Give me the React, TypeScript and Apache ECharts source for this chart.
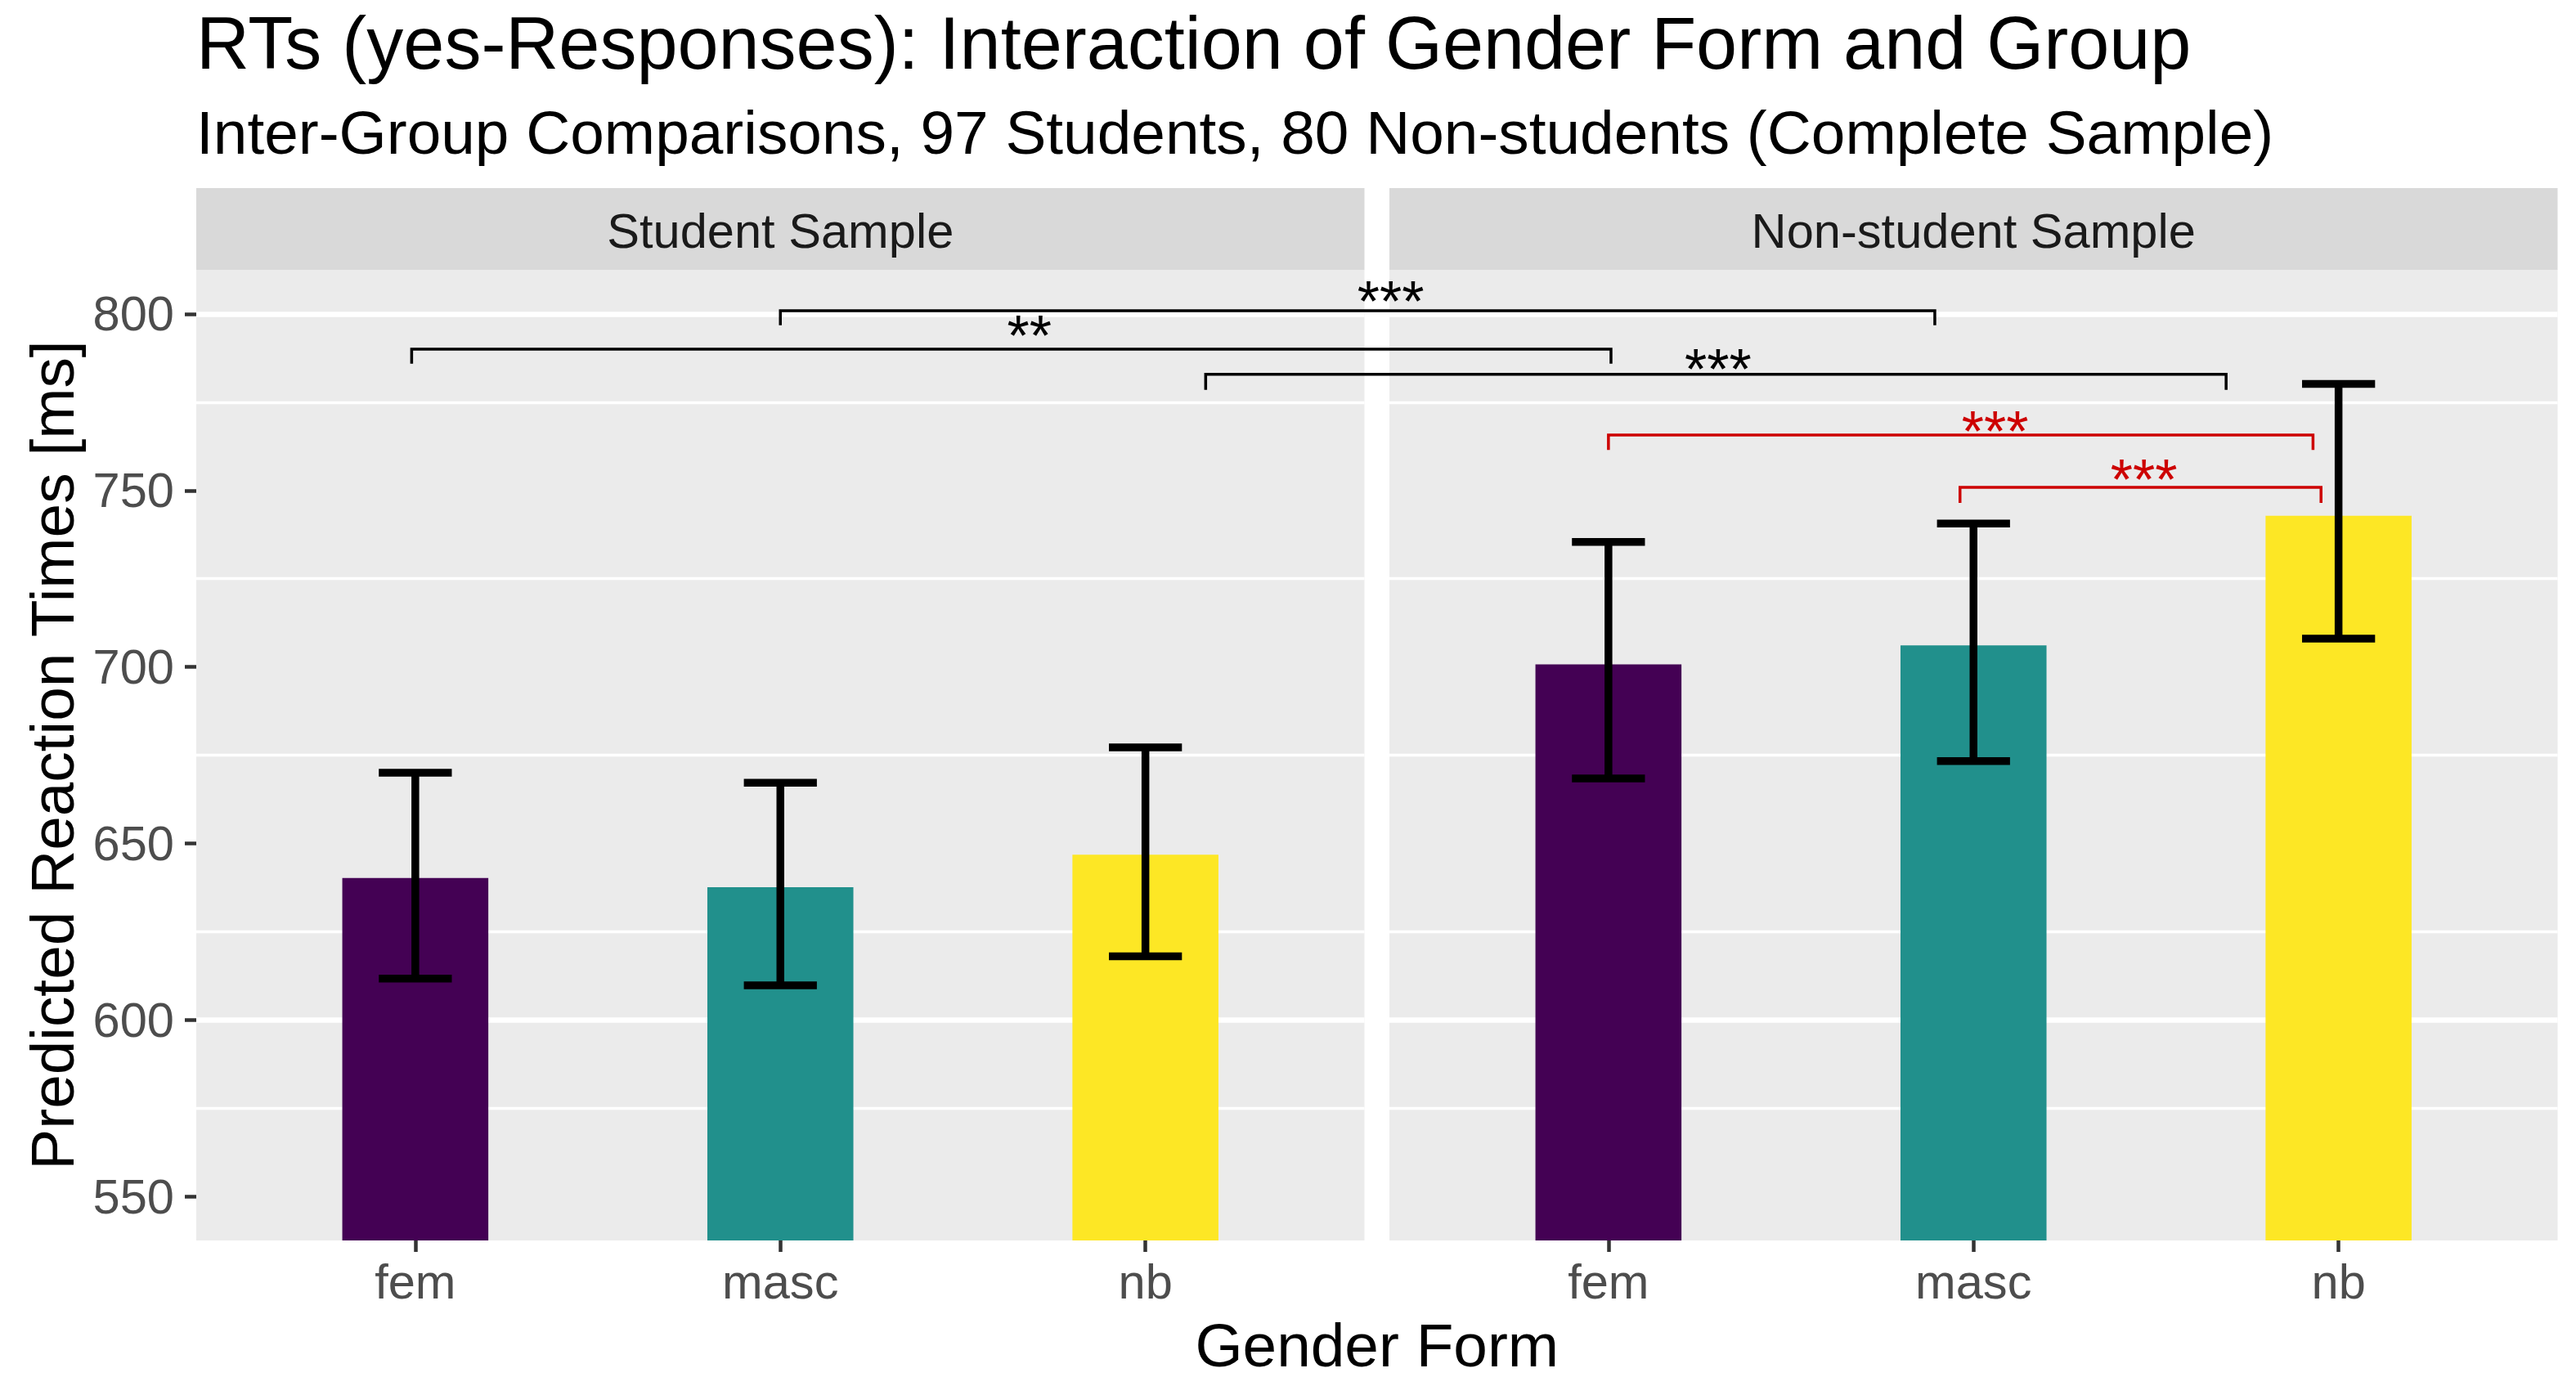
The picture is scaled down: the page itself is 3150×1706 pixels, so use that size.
import React, { useEffect, useRef } from 'react';
import * as echarts from 'echarts';

// ---------- data ----------
const categories = ['fem', 'masc', 'nb'];
const panelLabels = ['Student Sample', 'Non-student Sample'];
const studentMeans = [640.2, 637.6, 646.8];
const studentLower = [611.7, 609.8, 618.0];
const studentUpper = [670.0, 667.2, 677.2];
const nonStudentMeans = [700.7, 706.1, 742.8];
const nonStudentLower = [668.4, 673.3, 708.0];
const nonStudentUpper = [735.4, 740.6, 780.2];
const barColors = ['#440154', '#21908C', '#FDE725'];
const yTickValues = [550, 600, 650, 700, 750, 800];

// significance brackets: [panel, position in category units]
const bracketStart = [[0, 1.0], [0, -0.01], [0, 2.165], [1, 0.0], [1, 0.963]];
const bracketEnd = [[1, 0.894], [1, 0.007], [1, 1.692], [1, 1.93], [1, 1.952]];
const bracketY = [800.9, 790.0, 782.9, 765.7, 750.9];
const bracketTipY = [796.8, 785.9, 778.5, 761.5, 746.5];
const bracketLabels = ['***', '**', '***', '***', '***'];
const bracketLabelPos = [[0, 2.672], [0, 1.682], [1, 0.3], [1, 1.059], [1, 1.467]];
const bracketLabelY = [805.3, 795.6, 786.1, 768.5, 754.8];
const bracketColors = ['#000000', '#000000', '#000000', '#CD0000', '#CD0000'];

const titleText = 'RTs (yes-Responses): Interaction of Gender Form and Group';
const subtitleText = 'Inter-Group Comparisons, 97 Students, 80 Non-students (Complete Sample)';
const xTitle = 'Gender Form';
const yTitle = 'Predicted Reaction Times [ms]';

// ---------- layout / style ----------
const W = 3150;
const H = 1706;
const FONT = '"Liberation Sans", Arial, Helvetica, sans-serif';
const PANEL_LEFT = [240, 1699];
const PANEL_WIDTH = 1428.5;
const PANEL_TOP = 330;
const PANEL_HEIGHT = 1187;
const STRIP_HEIGHT = 100;
const X_MIN = -0.6;
const X_MAX = 2.6;
const Y_MIN = 537.5;
const Y_MAX = 812.5;
const UNIT = PANEL_WIDTH / (X_MAX - X_MIN);
const PANEL_OFFSET = [0, (PANEL_LEFT[1] - PANEL_LEFT[0]) / UNIT];
const OVERLAY_WIDTH = PANEL_LEFT[1] + PANEL_WIDTH - PANEL_LEFT[0];
const T = 'rgba(0,0,0,0)';
const BASE = 74.8;
const TITLE_SIZE = 90;
const SMALL = 59.6;
const STAR_SIZE = 70;
const CAP_WIDTH = 0.2;

function App() {
  const ref = useRef<HTMLDivElement>(null);

  useEffect(() => {
    if (!ref.current) return;
    const chart = echarts.init(ref.current, undefined, { renderer: 'svg', width: W, height: H });

    const grids: any[] = [0, 1].map((p) => ({
      left: PANEL_LEFT[p],
      top: PANEL_TOP,
      width: PANEL_WIDTH,
      height: PANEL_HEIGHT,
      show: true,
      backgroundColor: '#EBEBEB',
      borderWidth: 0,
      containLabel: false,
      outerBoundsMode: 'none',
    }));
    grids.push({
      left: PANEL_LEFT[0],
      top: PANEL_TOP,
      width: OVERLAY_WIDTH,
      height: PANEL_HEIGHT,
      show: false,
      containLabel: false,
      outerBoundsMode: 'none',
    });

    const xAxes: any[] = [0, 1].map((p) => ({
      type: 'value',
      gridIndex: p,
      position: 'bottom',
      min: X_MIN,
      max: X_MAX,
      interval: 0.2,
      axisLine: { show: false, onZero: false },
      axisTick: {
        show: true,
        customValues: [0, 1, 2],
        length: 14,
        lineStyle: { color: '#333333', width: 4.5 },
      },
      axisLabel: {
        show: true,
        customValues: [0, 1, 2],
        formatter: (v: number) =>
          Math.abs(v - Math.round(v)) < 1e-6 ? categories[Math.round(v)] ?? '' : '',
        margin: 20,
        color: '#4D4D4D',
        fontSize: SMALL,
        fontFamily: FONT,
      },
      splitLine: { show: true, lineStyle: { color: [T, T, T, '#FFFFFF', T], width: 6.5 } },
    }));
    xAxes.push({
      type: 'value',
      gridIndex: 2,
      min: X_MIN,
      max: X_MIN + OVERLAY_WIDTH / UNIT,
      show: false,
      axisLine: { onZero: false },
    });

    const yAxes: any[] = [0, 1].map((p) => ({
      type: 'value',
      gridIndex: p,
      position: 'left',
      min: Y_MIN,
      max: Y_MAX,
      interval: 12.5,
      axisLine: { show: false, onZero: false },
      axisTick: {
        show: p === 0,
        customValues: yTickValues,
        length: 14,
        lineStyle: { color: '#333333', width: 4.5 },
      },
      axisLabel: {
        show: p === 0,
        customValues: yTickValues,
        formatter: (v: number) => (yTickValues.indexOf(Math.round(v * 100) / 100) >= 0 ? String(v) : ''),
        margin: 27,
        color: '#4D4D4D',
        fontSize: SMALL,
        fontFamily: FONT,
      },
      splitLine: { show: true, lineStyle: { color: [T, '#FFFFFF', T, T], width: 6.5 } },
    }));
    [0, 1].forEach((p) =>
      yAxes.push({
        type: 'value',
        gridIndex: p,
        min: Y_MIN,
        max: Y_MAX,
        interval: 12.5,
        position: 'left',
        axisLine: { show: false, onZero: false },
        axisTick: { show: false },
        axisLabel: { show: false },
        splitLine: { show: true, lineStyle: { color: [T, T, T, '#FFFFFF'], width: 3.3 } },
      })
    );
    yAxes.push({
      type: 'value',
      gridIndex: 2,
      min: Y_MIN,
      max: Y_MAX,
      show: false,
      axisLine: { onZero: false },
    });

    const panelMeans = [studentMeans, nonStudentMeans];
    const panelLower = [studentLower, nonStudentLower];
    const panelUpper = [studentUpper, nonStudentUpper];

    const series: any[] = [];
    [0, 1].forEach((p) => {
      series.push({
        type: 'bar',
        name: panelLabels[p],
        xAxisIndex: p,
        yAxisIndex: p,
        barWidth: '40%',
        z: 2,
        data: panelMeans[p].map((m, i) => ({ value: [i, m], itemStyle: { color: barColors[i] } })),
      });
      series.push({
        type: 'custom',
        name: panelLabels[p] + ' CI',
        xAxisIndex: p,
        yAxisIndex: p,
        z: 3,
        clip: false,
        data: panelLower[p].map((lo, i) => [i, lo, panelUpper[p][i]]),
        renderItem: (params: any, api: any) => {
          const x = api.value(0);
          const pLo = api.coord([x, api.value(1)]);
          const pHi = api.coord([x, api.value(2)]);
          const half = api.size([CAP_WIDTH, 0])[0] / 2;
          const style = { stroke: '#000000', lineWidth: 9.5, lineCap: 'butt' };
          return {
            type: 'group',
            children: [
              { type: 'line', shape: { x1: pLo[0], y1: pLo[1], x2: pHi[0], y2: pHi[1] }, style },
              { type: 'line', shape: { x1: pLo[0] - half, y1: pLo[1], x2: pLo[0] + half, y2: pLo[1] }, style },
              { type: 'line', shape: { x1: pHi[0] - half, y1: pHi[1], x2: pHi[0] + half, y2: pHi[1] }, style },
            ],
          };
        },
      });
    });

    series.push({
      type: 'custom',
      name: 'significance',
      xAxisIndex: 2,
      yAxisIndex: 4,
      z: 5,
      clip: false,
      data: bracketY.map((y, i) => [
        PANEL_OFFSET[bracketStart[i][0]] + bracketStart[i][1],
        PANEL_OFFSET[bracketEnd[i][0]] + bracketEnd[i][1],
        y,
        bracketTipY[i],
        PANEL_OFFSET[bracketLabelPos[i][0]] + bracketLabelPos[i][1],
        bracketLabelY[i],
      ]),
      renderItem: (params: any, api: any) => {
        const i = params.dataIndex;
        const x1 = api.value(0);
        const x2 = api.value(1);
        const y = api.value(2);
        const tip = api.value(3);
        const a = api.coord([x1, tip]);
        const b = api.coord([x1, y]);
        const c = api.coord([x2, y]);
        const d = api.coord([x2, tip]);
        const l = api.coord([api.value(4), api.value(5)]);
        const color = bracketColors[i];
        return {
          type: 'group',
          children: [
            {
              type: 'polyline',
              shape: { points: [a, b, c, d] },
              style: { stroke: color, lineWidth: 3.5, fill: 'none' },
            },
            {
              type: 'text',
              x: l[0],
              y: l[1] + STAR_SIZE * 0.21 - 7,
              style: {
                text: bracketLabels[i],
                fill: color,
                fontSize: STAR_SIZE,
                fontFamily: FONT,
                align: 'center',
                verticalAlign: 'middle',
              },
            },
          ],
        };
      },
    });

    const graphic: any[] = [];
    [0, 1].forEach((p) => {
      graphic.push({
        type: 'rect',
        shape: { x: PANEL_LEFT[p], y: PANEL_TOP - STRIP_HEIGHT, width: PANEL_WIDTH, height: STRIP_HEIGHT },
        style: { fill: '#D9D9D9' },
        silent: true,
      });
      graphic.push({
        type: 'text',
        x: PANEL_LEFT[p] + PANEL_WIDTH / 2,
        y: PANEL_TOP - STRIP_HEIGHT / 2 + 2,
        style: {
          text: panelLabels[p],
          fill: '#1A1A1A',
          fontSize: SMALL,
          fontFamily: FONT,
          align: 'center',
          verticalAlign: 'middle',
          textAlign: 'center',
          textVerticalAlign: 'middle',
        },
      });
    });
    graphic.push({
      type: 'text',
      x: 240,
      y: 84 - TITLE_SIZE * 0.3465,
      style: {
        text: titleText,
        fill: '#000000',
        fontSize: TITLE_SIZE,
        fontFamily: FONT,
        align: 'left',
        verticalAlign: 'middle',
        textAlign: 'left',
        textVerticalAlign: 'middle',
      },
    });
    graphic.push({
      type: 'text',
      x: 240,
      y: 188 - BASE * 0.3465,
      style: {
        text: subtitleText,
        fill: '#000000',
        fontSize: BASE,
        fontFamily: FONT,
        align: 'left',
        verticalAlign: 'middle',
        textAlign: 'left',
        textVerticalAlign: 'middle',
      },
    });
    graphic.push({
      type: 'text',
      x: (PANEL_LEFT[0] + PANEL_LEFT[1] + PANEL_WIDTH) / 2,
      y: 1671 - BASE * 0.3465,
      style: {
        text: xTitle,
        fill: '#000000',
        fontSize: BASE,
        fontFamily: FONT,
        align: 'center',
        verticalAlign: 'middle',
        textAlign: 'center',
        textVerticalAlign: 'middle',
      },
    });
    graphic.push({
      type: 'text',
      x: 90 - BASE * 0.3465,
      y: PANEL_TOP + PANEL_HEIGHT / 2,
      rotation: Math.PI / 2,
      style: {
        text: yTitle,
        fill: '#000000',
        fontSize: BASE,
        fontFamily: FONT,
        align: 'center',
        verticalAlign: 'middle',
        textAlign: 'center',
        textVerticalAlign: 'middle',
      },
    });

    chart.setOption({
      animation: false,
      backgroundColor: '#FFFFFF',
      textStyle: { fontFamily: FONT },
      grid: grids,
      xAxis: xAxes,
      yAxis: yAxes,
      series,
      graphic,
    });

    return () => chart.dispose();
  }, []);

  return (
    <div
      ref={ref}
      style={{ position: 'absolute', left: 0, top: 0, width: W, height: H, background: '#FFFFFF' }}
    />
  );
}

export default App;
